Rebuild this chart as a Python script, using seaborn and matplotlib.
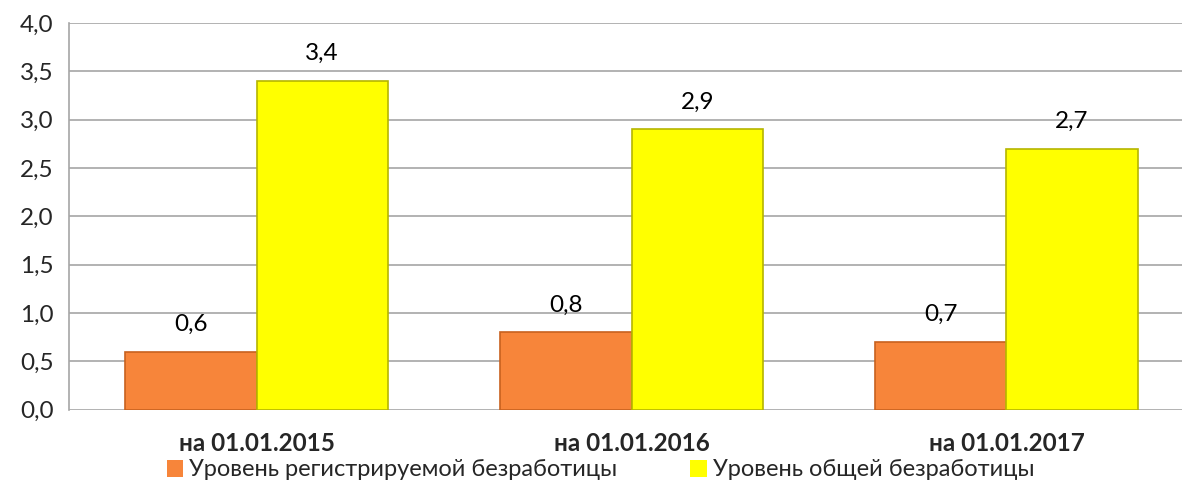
import matplotlib
matplotlib.use("Agg")
import matplotlib.pyplot as plt
import pandas as pd
import seaborn as sns
from matplotlib.ticker import FixedLocator, FuncFormatter

dates = ["на 01.01.2015", "на 01.01.2016", "на 01.01.2017"]
registered = [0.6, 0.8, 0.7]
total = [3.4, 2.9, 2.7]
series_names = ["Уровень регистрируемой безработицы", "Уровень общей безработицы"]

df = pd.DataFrame({
    "date": dates * 2,
    "value": registered + total,
    "series": [series_names[0]] * 3 + [series_names[1]] * 3,
})

sns.set_style("white")
plt.rcParams["font.family"] = ["Lato", "DejaVu Sans"]
fs = 17.5

fig = plt.figure(figsize=(11.82, 4.82), dpi=100)
ax = fig.add_axes([69 / 1182, 1 - 409.5 / 482, 1125 / 1182, 386.5 / 482])

sns.barplot(
    data=df, x="date", y="value", hue="series",
    palette=["#F7853A", "#FFFF00"], width=0.7, saturation=1,
    edgecolor="none", ax=ax,
)
edge_cols = ["#C8611F", "#B5B500"]
for container, ec in zip(ax.containers, edge_cols):
    for bar in container:
        bar.set_edgecolor(ec)
        bar.set_linewidth(1.2)
    ax.bar_label(container, labels=[f"{b.get_height():.1f}".replace(".", ",") for b in container],
                 padding=12, fontsize=fs, color="black")

ax.set_xlim(-0.5, 2.5)
ax.set_ylim(0, 4.0)
ax.set_yticks([i * 0.5 for i in range(9)])
ax.yaxis.set_major_formatter(FuncFormatter(lambda v, p: f"{v:.1f}".replace(".", ",")))
ax.grid(axis="y", color="#A6A6A6", linewidth=1.2)
ax.set_axisbelow(True)
for side in ["top", "right", "bottom"]:
    ax.spines[side].set_visible(False)
ax.spines["left"].set_color("#A6A6A6")
ax.spines["left"].set_linewidth(1.2)

ax.tick_params(axis="y", direction="out", length=7, width=1.2, color="#A6A6A6",
               labelsize=fs, pad=4)
ax.tick_params(axis="x", which="major", length=0, labelsize=fs, pad=16)
ax.xaxis.set_minor_locator(FixedLocator([0.5, 1.5]))
ax.tick_params(axis="x", which="minor", direction="out", length=7, width=1.2, color="#A6A6A6")
for lbl in ax.get_xticklabels():
    lbl.set_fontweight("bold")
ax.set_xlabel("")
ax.set_ylabel("")

handles, labels = ax.get_legend_handles_labels()
ax.get_legend().remove()
fig.legend(handles, labels, loc="center", bbox_to_anchor=(0.508, 1 - 470 / 482), ncol=2,
           frameon=False, fontsize=17, handlelength=0.7, handleheight=0.7,
           handletextpad=0.25, columnspacing=3.1, borderpad=0)

fig.savefig("out.png", dpi=100)
